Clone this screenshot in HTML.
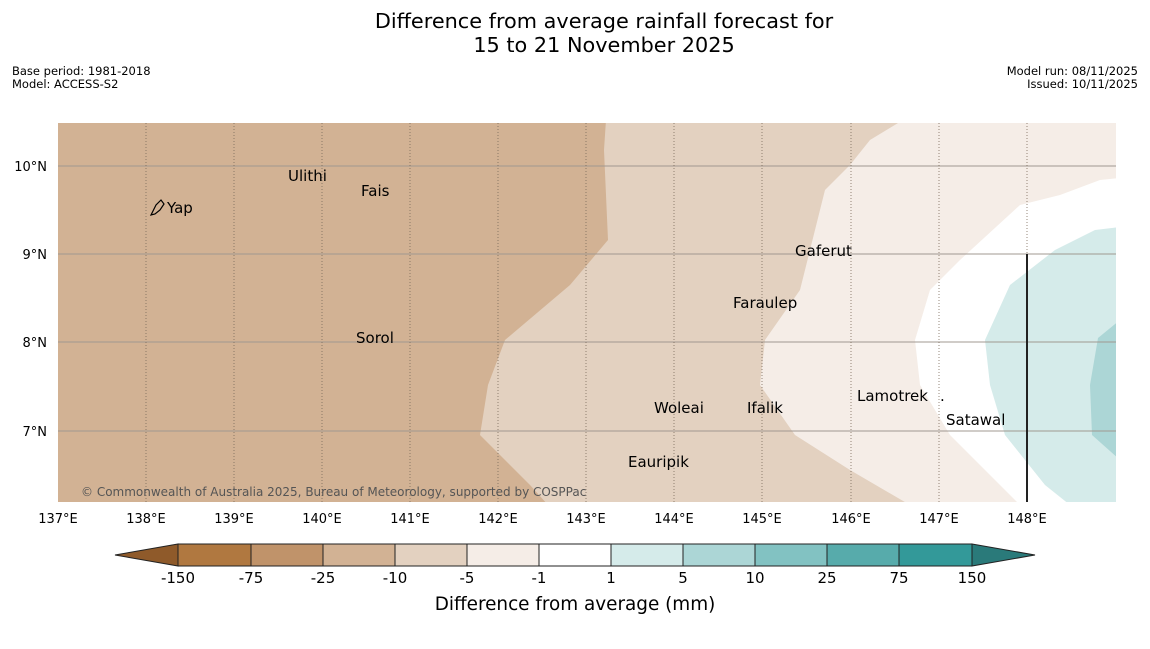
<!DOCTYPE html>
<html><head><meta charset="utf-8"><style>
body{margin:0;background:#fff;width:1150px;height:644px;overflow:hidden;font-family:"Liberation Sans","DejaVu Sans",sans-serif}
</style></head><body>
<svg width="1150" height="644" xmlns="http://www.w3.org/2000/svg" font-family="DejaVu Sans, Liberation Sans, sans-serif">
<rect width="1150" height="644" fill="#fff"/>
<text x="604" y="28" font-size="20.8" text-anchor="middle">Difference from average rainfall forecast for</text>
<text x="604" y="52" font-size="20.8" text-anchor="middle">15 to 21 November 2025</text>
<text x="12" y="75" font-size="11.5">Base period: 1981-2018</text>
<text x="12" y="88" font-size="11.5">Model: ACCESS-S2</text>
<text x="1138" y="75" font-size="11.5" text-anchor="end">Model run: 08/11/2025</text>
<text x="1138" y="88" font-size="11.5" text-anchor="end">Issued: 10/11/2025</text>
<defs><clipPath id="c"><rect x="58" y="123" width="1058" height="379"/></clipPath></defs>
<g clip-path="url(#c)">
<rect x="58" y="123" width="1058" height="379" fill="#d2b294"/>
<polygon points="606,120 604,150 608,240 570,285 505,340 488,385 480,435 530,485 548,505 1120,505 1120,120" fill="#e3d1c0"/>
<polygon points="903,120 870,140 850,165 825,190 815,230 800,290 765,340 760,385 795,435 850,470 910,505 1120,505 1120,120" fill="#f5ede7"/>
<polygon points="1120,178 1100,180 1060,195 1020,205 960,260 930,290 915,340 920,385 950,435 1000,485 1020,505 1120,505" fill="#fff"/>
<polygon points="1120,227 1095,230 1055,250 1010,285 985,340 990,385 1005,435 1045,485 1070,505 1120,505" fill="#d5ebea"/>
<polygon points="1120,320 1098,338 1090,385 1092,435 1120,460" fill="#acd6d6"/>
<g stroke="#a09890" stroke-width="1">
<line x1="58" y1="166" x2="1116" y2="166"/><line x1="58" y1="254" x2="1116" y2="254"/>
<line x1="58" y1="342" x2="1116" y2="342"/><line x1="58" y1="431" x2="1116" y2="431"/>
</g>
<g stroke="#7a6a5a" stroke-width="0.8" stroke-dasharray="1,2">
<line x1="146" y1="123" x2="146" y2="502"/><line x1="234" y1="123" x2="234" y2="502"/>
<line x1="322" y1="123" x2="322" y2="502"/><line x1="410" y1="123" x2="410" y2="502"/>
<line x1="498" y1="123" x2="498" y2="502"/><line x1="586" y1="123" x2="586" y2="502"/>
<line x1="674" y1="123" x2="674" y2="502"/><line x1="762" y1="123" x2="762" y2="502"/>
<line x1="851" y1="123" x2="851" y2="502"/><line x1="939" y1="123" x2="939" y2="502"/>
<line x1="1027" y1="123" x2="1027" y2="502"/>
</g>
<line x1="1027" y1="254" x2="1027" y2="502" stroke="#222" stroke-width="2"/>
</g>
<path d="M151,215 L156,205 L161,200 L164,204 L160,210 L155,214 Z" fill="none" stroke="#000" stroke-width="1.2"/>
<g font-size="15" fill="#000">
<text x="167" y="213">Yap</text>
<text x="288" y="181">Ulithi</text>
<text x="361" y="196">Fais</text>
<text x="795" y="256">Gaferut</text>
<text x="733" y="308">Faraulep</text>
<text x="356" y="343">Sorol</text>
<text x="857" y="401">Lamotrek</text><text x="940" y="401">.</text>
<text x="946" y="425">Satawal</text>
<text x="654" y="413">Woleai</text>
<text x="747" y="413">Ifalik</text>
<text x="628" y="467">Eauripik</text>
</g>
<text x="81" y="496" font-size="12" fill="#555">© Commonwealth of Australia 2025, Bureau of Meteorology, supported by COSPPac</text>
<g font-size="13" text-anchor="middle">
<text x="58" y="523">137°E</text><text x="146" y="523">138°E</text><text x="234" y="523">139°E</text>
<text x="322" y="523">140°E</text><text x="410" y="523">141°E</text><text x="498" y="523">142°E</text>
<text x="586" y="523">143°E</text><text x="674" y="523">144°E</text><text x="762" y="523">145°E</text>
<text x="851" y="523">146°E</text><text x="939" y="523">147°E</text><text x="1027" y="523">148°E</text>
</g>
<g font-size="13" text-anchor="end">
<text x="47" y="171">10°N</text><text x="47" y="259">9°N</text><text x="47" y="347">8°N</text><text x="47" y="436">7°N</text>
</g>
<g stroke="#222" stroke-width="1">
<polygon points="115,555 178,544 178,566" fill="#8f5a2a"/>
<rect x="178" y="544" width="73" height="22" fill="#b07840"/>
<rect x="251" y="544" width="72" height="22" fill="#c0936a"/>
<rect x="323" y="544" width="72" height="22" fill="#d2b294"/>
<rect x="395" y="544" width="72" height="22" fill="#e3d1c0"/>
<rect x="467" y="544" width="72" height="22" fill="#f5ede7"/>
<rect x="539" y="544" width="72" height="22" fill="#fff"/>
<rect x="611" y="544" width="72" height="22" fill="#d5ebea"/>
<rect x="683" y="544" width="72" height="22" fill="#acd6d6"/>
<rect x="755" y="544" width="72" height="22" fill="#82c2c2"/>
<rect x="827" y="544" width="72" height="22" fill="#57abab"/>
<rect x="899" y="544" width="73" height="22" fill="#339999"/>
<polygon points="972,544 1035,555 972,566" fill="#2a7a7a"/>
</g>
<g font-size="15" text-anchor="middle">
<text x="178" y="583">-150</text><text x="251" y="583">-75</text><text x="323" y="583">-25</text>
<text x="395" y="583">-10</text><text x="467" y="583">-5</text><text x="539" y="583">-1</text>
<text x="611" y="583">1</text><text x="683" y="583">5</text><text x="755" y="583">10</text>
<text x="827" y="583">25</text><text x="899" y="583">75</text><text x="972" y="583">150</text>
</g>
<text x="575" y="610" font-size="18.4" text-anchor="middle">Difference from average (mm)</text>
</svg>
</body></html>
